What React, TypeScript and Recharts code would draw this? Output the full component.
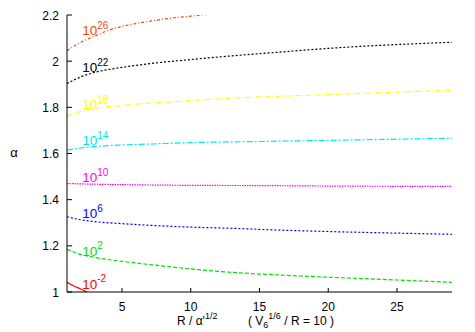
import React from 'react';
import { LineChart, Line, XAxis, YAxis, ReferenceDot } from 'recharts';

const X_TICKS = [5, 10, 15, 20, 25];
const Y_TICKS = [1, 1.2, 1.4, 1.6, 1.8, 2, 2.2];

// R / alpha'^1/2 sample points and alpha values for each curve
const X_RED = [1, 1.5, 2, 2.5, 3];
const A_RED = [1.042, 1.026, 1.013, 0.998, 0.985];

const X_GREEN = [1, 2, 3, 5, 7, 10, 13, 16, 20, 25, 29];
const A_GREEN = [1.185, 1.163, 1.15, 1.133, 1.119, 1.1, 1.085, 1.075, 1.064, 1.052, 1.042];

const X_BLUE = [1, 2, 3, 5, 7, 10, 13, 16, 20, 25, 29];
const A_BLUE = [1.326, 1.313, 1.305, 1.296, 1.289, 1.281, 1.276, 1.269, 1.262, 1.255, 1.25];

const X_MAGENTA = [1, 3, 5, 10, 15, 20, 25, 29];
const A_MAGENTA = [1.47, 1.467, 1.465, 1.462, 1.461, 1.459, 1.458, 1.458];

const X_CYAN = [1, 2, 3, 5, 7, 10, 15, 20, 25, 29];
const A_CYAN = [1.614, 1.624, 1.63, 1.637, 1.641, 1.647, 1.652, 1.657, 1.662, 1.666];

const X_YELLOW = [1, 2, 3, 5, 7, 10, 13, 16, 20, 25, 29];
const A_YELLOW = [1.762, 1.782, 1.795, 1.808, 1.818, 1.829, 1.84, 1.847, 1.855, 1.866, 1.874];

const X_BLACK = [1, 2, 3, 5, 7, 10, 13, 16, 19, 22, 25, 29];
const A_BLACK = [1.903, 1.932, 1.951, 1.973, 1.989, 2.007, 2.023, 2.037, 2.051, 2.063, 2.072, 2.082];

const X_ORANGE = [1, 2, 3, 4, 5, 6, 7, 8, 9, 10, 11, 12];
const A_ORANGE = [2.045, 2.082, 2.108, 2.133, 2.15, 2.163, 2.173, 2.182, 2.189, 2.195, 2.201, 2.206];

// curve labels (10^exp), anchored in data coordinates
const EXPONENTS = ['-2', '2', '6', '10', '14', '18', '22', '26'];
const LABEL_X = [2.1, 2.1, 2.1, 2.1, 2.1, 2.1, 2.1, 2.1];
const LABEL_A = [1.013, 1.157, 1.319, 1.475, 1.636, 1.792, 1.951, 2.113];

const FONT = '"Liberation Sans", Arial, Helvetica, sans-serif';

const SERIES = [
  { xs: X_RED, ys: A_RED, color: '#ff0000', dash: undefined },
  { xs: X_GREEN, ys: A_GREEN, color: '#00e000', dash: '4 2' },
  { xs: X_BLUE, ys: A_BLUE, color: '#0000ff', dash: '2 2' },
  { xs: X_MAGENTA, ys: A_MAGENTA, color: '#ff00ff', dash: '1.5 1' },
  { xs: X_CYAN, ys: A_CYAN, color: '#00e8e8', dash: '6 2 2 2' },
  { xs: X_YELLOW, ys: A_YELLOW, color: '#ffff00', dash: '5 2 1 2' },
  { xs: X_BLACK, ys: A_BLACK, color: '#000000', dash: '2 2' },
  { xs: X_ORANGE, ys: A_ORANGE, color: '#ff4500', dash: '3 2 1 2' },
];

const ExpLabel = (props: any) => {
  const { viewBox, exp, color } = props;
  const x = viewBox.x + viewBox.width / 2;
  const y = viewBox.y + viewBox.height / 2;
  return (
    <text x={x} y={y} fill={color} fontSize={13.5} fontFamily={FONT}>
      10
      <tspan dy={-6.5} fontSize={10}>{exp}</tspan>
    </text>
  );
};

const BottomTick = (p: any) => (
  <g>
    <line x1={p.x} x2={p.x} y1={p.y} y2={p.y - 4} stroke="#000" />
    <text x={p.x} y={p.y + 19} textAnchor="middle" fontSize={12} fontFamily={FONT} fill="#000">
      {p.payload.value}
    </text>
  </g>
);

const TopTick = (p: any) => <line x1={p.x} x2={p.x} y1={p.y} y2={p.y + 4} stroke="#666" />;

const LeftTick = (p: any) => (
  <g>
    <line x1={p.x} x2={p.x + 5} y1={p.y} y2={p.y} stroke="#000" />
    <text x={p.x - 8} y={p.y + 4.5} textAnchor="end" fontSize={12} fontFamily={FONT} fill="#000">
      {String(p.payload.value)}
    </text>
  </g>
);

const RightTick = (p: any) => <line x1={p.x} x2={p.x - 5} y1={p.y} y2={p.y} stroke="#000" />;

const XTitle = (props: any) => {
  const { viewBox } = props;
  const x = viewBox.x + 110;
  const y = viewBox.y + 33;
  return (
    <text x={x} y={y} fontSize={12} fontFamily={FONT} fill="#000">
      R / α'
      <tspan y={y - 6} fontSize={9}>1/2</tspan>
      <tspan x={x + 71} y={y}>( V</tspan>
      <tspan y={y + 3} fontSize={9}>6</tspan>
      <tspan y={y - 6} fontSize={9}>1/6</tspan>
      <tspan y={y}> / R = 10 )</tspan>
    </text>
  );
};

const YTitle = (props: any) => {
  const { viewBox } = props;
  return (
    <text x={14} y={viewBox.y + viewBox.height / 2 + 3} textAnchor="middle" fontSize={13} fontFamily={FONT} fill="#000">
      α
    </text>
  );
};

export default function App() {
  return (
    <div style={{ width: 475, height: 332, background: '#fff', fontFamily: FONT }}>
      <style>{'body{margin:0}'}</style>
      <LineChart width={475} height={332} margin={{ top: 15, right: 23, bottom: 0, left: 0 }}>
        <XAxis
          type="number"
          dataKey="x"
          domain={[1, 29]}
          ticks={X_TICKS}
          allowDataOverflow
          height={40}
          tickSize={0}
          tickMargin={0}
          tick={<BottomTick />}
          axisLine={{ stroke: '#000' }}
          label={<XTitle />}
        />
        <XAxis
          xAxisId="top"
          orientation="top"
          type="number"
          domain={[1, 29]}
          ticks={X_TICKS}
          allowDataOverflow
          height={0}
          tickSize={0}
          tickMargin={0}
          tick={<TopTick />}
          axisLine={{ stroke: '#888' }}
        />
        <YAxis
          type="number"
          domain={[1, 2.2]}
          ticks={Y_TICKS}
          allowDataOverflow
          width={67}
          tickSize={0}
          tickMargin={0}
          tick={<LeftTick />}
          axisLine={{ stroke: '#000' }}
          label={<YTitle />}
        />
        <YAxis
          yAxisId="right"
          orientation="right"
          type="number"
          domain={[1, 2.2]}
          ticks={Y_TICKS}
          allowDataOverflow
          width={0}
          tickSize={0}
          tickMargin={0}
          tick={<RightTick />}
          axisLine={{ stroke: '#000' }}
        />
        {SERIES.map((s, i) => (
          <Line
            key={i}
            data={s.xs.map((x, j) => ({ x, a: s.ys[j] }))}
            dataKey="a"
            type="monotone"
            stroke={s.color}
            strokeWidth={1.2}
            strokeDasharray={s.dash}
            dot={false}
            activeDot={false}
            isAnimationActive={false}
          />
        ))}
        {EXPONENTS.map((e, i) => (
          <ReferenceDot
            key={'l' + i}
            x={LABEL_X[i]}
            y={LABEL_A[i]}
            r={0.01}
            fill="none"
            stroke="none"
            label={<ExpLabel exp={e} color={SERIES[i].color} />}
          />
        ))}
      </LineChart>
    </div>
  );
}
